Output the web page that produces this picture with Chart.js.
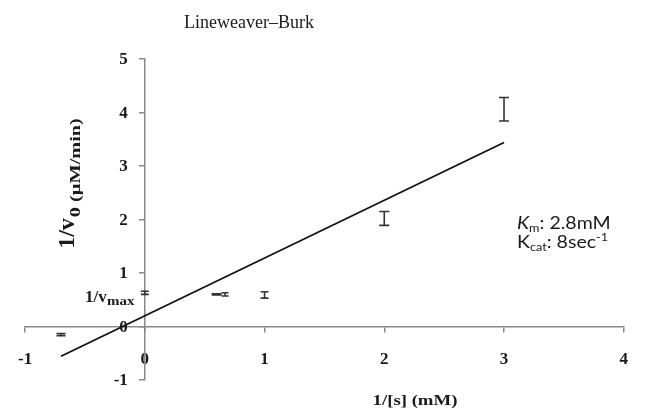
<!DOCTYPE html>
<html>
<head>
<meta charset="utf-8">
<script src="https://cdn.jsdelivr.net/npm/chart.js@4.4.0/dist/chart.umd.min.js"></script>
<style>
  html, body { margin: 0; padding: 0; background: #fff; }
  #wrap { width: 646px; height: 410px; position: relative; }
</style>
</head>
<body>
<div id="wrap"><canvas id="lbChart"></canvas></div>
<script>
// 1/[S] values and 1/v0 with error
const invS = [-0.7, 0, 0.6, 0.67, 1, 2, 3];
const invV = [-0.15, 0.63, 0.6, 0.6, 0.59, 2.02, 4.06];
const invVErr = [0.02, 0.03, 0.012, 0.03, 0.06, 0.13, 0.22];
const capHalf = [4.5, 4, 5, 3.5, 4, 5, 5];

// regression line end points
const fitX = [-0.7, 3];
const fitY = [-0.556, 3.44];

const xRange = [-1, 4];
const yRange = [-1, 5];

const serif = "'Liberation Serif', 'Times New Roman', serif";
const sans = "Lato, 'Open Sans', sans-serif";

const errorBars = {
  id: 'errorBars',
  afterDatasetsDraw(chart) {
    const ctx = chart.ctx;
    const xs = chart.scales.x, ys = chart.scales.y;
    ctx.save();
    ctx.strokeStyle = '#333';
    ctx.lineWidth = 1.6;
    invS.forEach((v, i) => {
      const px = xs.getPixelForValue(v);
      const top = ys.getPixelForValue(invV[i] + invVErr[i]);
      const bot = ys.getPixelForValue(invV[i] - invVErr[i]);
      const w = capHalf[i];
      ctx.beginPath();
      ctx.moveTo(px, top); ctx.lineTo(px, bot);
      ctx.moveTo(px - w, top); ctx.lineTo(px + w, top);
      ctx.moveTo(px - w, bot); ctx.lineTo(px + w, bot);
      ctx.stroke();
    });
    ctx.restore();
  }
};

const labels = {
  id: 'labels',
  afterDraw(chart) {
    const ctx = chart.ctx;
    const xs = chart.scales.x, ys = chart.scales.y;
    ctx.save();
    ctx.fillStyle = '#1a1a1a';

    // y tick labels, left of the axis
    ctx.font = 'bold 17px ' + serif;
    ctx.textAlign = 'right';
    ctx.textBaseline = 'middle';
    const axX = xs.getPixelForValue(0);
    ys.ticks.forEach(t => {
      ctx.fillText(String(t.value), axX - 17, ys.getPixelForValue(t.value) + 1);
    });

    ctx.textBaseline = 'alphabetic';

    // title
    ctx.font = '18px ' + serif;
    ctx.textAlign = 'center';
    ctx.fillText('Lineweaver\u2013Burk', 249, 28);

    // x axis title
    ctx.font = 'bold 15px ' + serif;
    ctx.save();
    ctx.translate(415, 405);
    ctx.scale(1.25, 1);
    ctx.fillText('1/[s] (mM)', 0, 0);
    ctx.restore();

    // y axis title, rotated
    ctx.save();
    ctx.translate(74, 184);
    ctx.rotate(-Math.PI / 2);
    ctx.textAlign = 'left';
    ctx.font = 'bold 24px ' + serif;
    const big = '1/v';
    const wBig = ctx.measureText(big).width;
    ctx.font = 'bold 14px ' + serif;
    const small = '0 (\u00b5M/min)';
    const wSmall = ctx.measureText(small).width * 1.45;
    const x0 = -(wBig + wSmall) / 2;
    ctx.font = 'bold 24px ' + serif;
    ctx.fillText(big, x0, 0);
    ctx.font = 'bold 14px ' + serif;
    ctx.save();
    ctx.translate(x0 + wBig + 1, 6);
    ctx.scale(1.45, 1);
    ctx.fillText(small, 0, 0);
    ctx.restore();
    ctx.restore();

    // 1/vmax label
    ctx.textAlign = 'left';
    ctx.font = 'bold 17px ' + serif;
    ctx.fillText('1/v', 85, 302);
    ctx.font = 'bold 12px ' + serif;
    ctx.save();
    ctx.translate(107, 305);
    ctx.scale(1.25, 1);
    ctx.fillText('max', 0, 0);
    ctx.restore();

    // Km and kcat
    ctx.save();
    ctx.translate(517, 0);
    ctx.scale(1.15, 1);
    ctx.font = 'italic 17px ' + sans;
    ctx.fillText('K', 0, 229);
    let kw = ctx.measureText('K').width;
    ctx.font = '11px ' + sans;
    ctx.fillText('m', kw, 232);
    let mw = ctx.measureText('m').width;
    ctx.font = '17px ' + sans;
    ctx.fillText(': 2.8mM', kw + mw, 229);

    ctx.fillText('K', 0, 248);
    kw = ctx.measureText('K').width;
    ctx.font = '11px ' + sans;
    ctx.fillText('cat', kw, 251);
    mw = ctx.measureText('cat').width;
    ctx.font = '17px ' + sans;
    ctx.fillText(': 8sec', kw + mw, 248);
    const sw = ctx.measureText(': 8sec').width;
    ctx.font = '11px ' + sans;
    ctx.fillText('-1', kw + mw + sw, 241);
    ctx.restore();

    ctx.restore();
  }
};

new Chart(document.getElementById('lbChart'), {
  type: 'scatter',
  data: {
    datasets: [
      {
        label: '1/v0',
        data: invS.map((x, i) => ({ x: x, y: invV[i] })),
        pointRadius: 0,
        showLine: false
      },
      {
        type: 'line',
        label: 'fit',
        data: fitX.map((x, i) => ({ x: x, y: fitY[i] })),
        borderColor: '#111',
        borderWidth: 1.8,
        pointRadius: 0,
        fill: false
      }
    ]
  },
  options: {
    responsive: true,
    maintainAspectRatio: false,
    animation: false,
    layout: { padding: { left: 18, right: 13, top: 59, bottom: 30 } },
    plugins: {
      legend: { display: false },
      tooltip: { enabled: false }
    },
    scales: {
      x: {
        type: 'linear',
        min: xRange[0], max: xRange[1],
        position: { y: 0 },
        border: { color: '#8a8a8a', width: 1.5 },
        grid: { drawOnChartArea: false, tickLength: 5, color: '#8a8a8a', lineWidth: 1.5 },
        ticks: {
          stepSize: 1, padding: 18, color: '#1a1a1a',
          font: { family: serif, size: 17, weight: 'bold' }
        }
      },
      y: {
        type: 'linear',
        min: yRange[0], max: yRange[1],
        position: { x: 0 },
        border: { color: '#8a8a8a', width: 1.5 },
        grid: { drawOnChartArea: false, tickLength: 5, color: '#8a8a8a', lineWidth: 1.5 },
        ticks: { stepSize: 1, display: false }
      }
    }
  },
  plugins: [errorBars, labels]
});
</script>
</body>
</html>
